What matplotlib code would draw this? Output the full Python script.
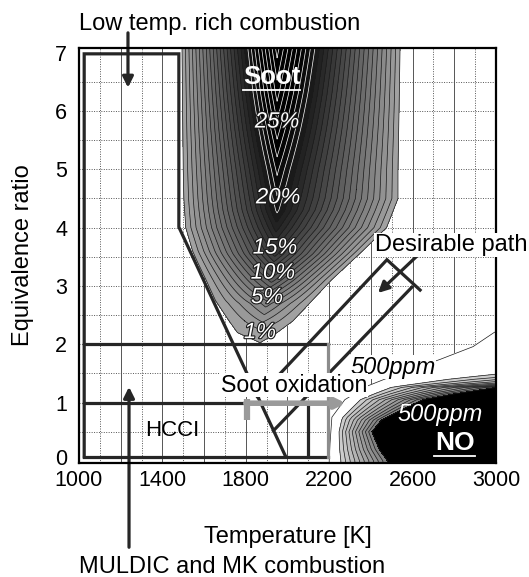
import numpy as np
import matplotlib.pyplot as plt
from matplotlib import patheffects as pe
from matplotlib.transforms import ScaledTranslation

plt.rcParams['font.family'] = ['Liberation Sans', 'DejaVu Sans']

# %% Soot yield [%] - outer (1 %) contour edges and ridge, read along phi
soot_phi   = [2.03, 2.2, 2.4, 2.75, 3.1, 3.4, 3.6, 4.0, 4.5, 5.0, 6.0, 7.1]
soot_left  = [1868, 1760, 1720, 1655, 1610, 1570, 1545, 1512, 1503, 1500, 1497, 1494]
soot_right = [1870, 1950, 2026, 2118, 2210, 2300, 2360, 2475, 2530, 2530, 2535, 2540]
ridge_phi  = [2.03, 2.2, 2.7, 3.1, 3.55, 4.3, 7.1]
ridge_T    = [1868, 1870, 1900, 1925, 1940, 1950, 1950]
peak_phi   = [2.03, 2.2, 2.7, 3.1, 3.55, 4.0, 4.3, 5.0, 5.7, 6.3, 7.1]
peak_soot  = [1.0, 1.6, 5.5, 10.5, 15.5, 18.5, 20.3, 22.3, 24.6, 26.4, 28.5]
soot_levels = np.arange(1, 29, 1)

# %% NO - outermost contour and edge of the black core, read along phi
no_phi     = [0.0, 0.3, 0.75, 1.05, 1.28, 1.45, 1.74, 1.96, 2.2, 2.6]
no_outer_T = [2200, 2204, 2213, 2275, 2380, 2500, 2731, 2890, 2990, 3200]
core_phi   = [0.0, 0.2, 0.5, 0.7, 0.9, 1.05, 1.15, 1.26, 1.4, 1.6, 2.0, 2.6]
core_T     = [2480, 2440, 2405, 2450, 2560, 2650, 2800, 3000, 4000, 6000, 9000, 12000]
no_levels  = [0, 0.2, 0.28, 0.36, 0.44, 0.52, 0.6, 0.68, 0.76, 0.84, 0.92, 1.0]

# %% Combustion regions (T [K], phi)
lowtemp_box = [(1025, 0.07), (1025, 6.98), (1479, 6.98), (1479, 4.01), (1992, 0.07)]
muldic_top  = [(1025, 2.0), (2195, 2.0)]
muldic_side = [(2195, 2.0), (2195, 0.07)]
bottom_line = [(1025, 0.07), (2195, 0.07)]
hcci_box    = [(1025, 1.0), (2100, 1.0), (2100, 0.07)]
path_upper  = [(1858, 1.09), (2477, 3.45), (2636, 2.93)]
path_lower  = [(1933, 0.52), (2597, 2.98)]

# %% Build fields
T = np.arange(1000, 3001, 5.0)
phi = np.arange(-0.05, 7.1, 0.01)
TT, PP = np.meshgrid(T, phi)

L = np.interp(phi, soot_phi, soot_left)[:, None]
R = np.interp(phi, soot_phi, soot_right)[:, None]
C = np.interp(phi, ridge_phi, ridge_T)[:, None]
Sc = np.interp(phi, peak_phi, peak_soot, left=0)[:, None]
u = np.where(TT < C, (C - TT) / np.maximum(C - L, 1), (TT - C) / np.maximum(R - C, 1))
soot = 1 + (Sc - 1) * (1 - u)
soot[np.broadcast_to(Sc < 1, soot.shape)] = 0

Tb = np.interp(phi, no_phi, no_outer_T)[:, None]
Tk = np.interp(phi, core_phi, core_T)[:, None]
no = (TT - Tb) / (Tk - Tb)

# %% Plot
fig = plt.figure(figsize=(5.29, 5.77), dpi=100)
ax = fig.add_axes([0.1493, 0.1976, 0.7883, 0.7192])
ax.set_xlim(1000, 3000)
ax.set_ylim(-0.035, 7.08)

# grid: solid every 200 K, dotted in between, dotted phi lines
for t in range(1100, 3000, 100):
    ls = '-' if t % 200 == 0 else (0, (1, 1.5))
    ax.axvline(t, color='#555555', lw=0.7, ls=ls, zorder=0.5)
for p in np.arange(0.5, 7.0, 0.5):
    ax.axhline(p, color='#555555', lw=0.7, ls=(0, (1, 1.5)), zorder=0.5)

# soot yield
s_cols = [str(np.clip(0.66 * (1 - s / 22.5), 0, 1)) for s in soot_levels[:-1]]
ax.contourf(TT, PP, soot, levels=list(soot_levels) + [60], colors=s_cols + ['0'], zorder=1)
line_cols = ['#1a1a1a' if s < 20 else 'white' for s in soot_levels]
ax.contour(TT, PP, soot, levels=soot_levels, colors=line_cols, linewidths=0.5, zorder=1.2)

# NO
n_cols = ['white'] + [str(0.80 - 0.30 * i / 9) for i in range(10)] + ['0']
ax.contourf(TT, PP, no, levels=no_levels + [50], colors=n_cols, zorder=1)
ax.contour(TT, PP, no, levels=no_levels, colors='#1a1a1a', linewidths=0.5, zorder=1.2)

# region outlines
dark = '#262626'
for pts in [lowtemp_box, muldic_top, bottom_line, hcci_box, path_upper, path_lower]:
    x, y = zip(*pts)
    ax.plot(x, y, color=dark, lw=2.3, solid_joinstyle='miter', zorder=3)
x, y = zip(*muldic_side)
ax.plot(x, y, color='#8c8c8c', lw=2.3, zorder=3)

# soot oxidation arrow
ax.plot([1805, 1805], [0.7, 1.07], color='#9a9a9a', lw=4.5, solid_capstyle='butt', zorder=3.5)
ax.annotate('', xy=(2280, 0.99), xytext=(1800, 0.99),
            arrowprops=dict(arrowstyle='-|>', color='#9a9a9a', lw=4, mutation_scale=14,
                            shrinkA=0, shrinkB=0), zorder=3.5)

# pointer arrows
arr = dict(arrowstyle='-|>', color=dark, lw=2.3, mutation_scale=16, shrinkA=0, shrinkB=0)
ax.annotate('', xy=(1235, 6.40), xytext=(1235, 7.34), arrowprops=arr, annotation_clip=False, zorder=4)
ax.annotate('', xy=(1240, 1.27), xytext=(1240, -1.48), arrowprops=arr, annotation_clip=False, zorder=4)
ax.annotate('', xy=(2434, 2.88), xytext=(2626, 3.53), arrowprops=arr, zorder=4)

# labels inside the map
halo = [pe.withStroke(linewidth=1.6, foreground='#1a1a1a')]
for txt, t, p in [('25%', 1950, 5.81), ('20%', 1955, 4.51), ('15%', 1940, 3.65),
                  ('10%', 1930, 3.22), ('5%', 1902, 2.80), ('1%', 1868, 2.20)]:
    ax.text(t, p, txt, color='white', fontsize=16, style='italic', ha='center', va='center',
            path_effects=halo, zorder=5)
ax.text(1925, 6.59, 'Soot', color='white', fontsize=18.5, weight='bold', ha='center', va='center', zorder=5)
ax.plot([1785, 2062], [6.36, 6.36], color='white', lw=1.3, zorder=5)
ax.text(2803, 0.31, 'NO', color='white', fontsize=19, weight='bold', ha='center', va='center', zorder=5)
ax.plot([2705, 2900], [0.08, 0.08], color='white', lw=1.3, zorder=5)
ax.text(2731, 0.79, '500ppm', color='white', fontsize=17, style='italic', ha='center', va='center', zorder=5)

wbox = dict(facecolor='white', edgecolor='none', pad=0.5)
ax.text(2506, 1.61, '500ppm', fontsize=17, style='italic', ha='center', va='center', bbox=wbox, zorder=5)
ax.text(2032, 1.30, 'Soot oxidation', fontsize=16.7, ha='center', va='center', bbox=wbox, zorder=5)
ax.text(2784, 3.70, 'Desirable path', fontsize=17, ha='center', va='center', bbox=wbox,
        clip_on=False, zorder=6)
ax.text(1446, 0.53, 'HCCI', fontsize=16, ha='center', va='center', zorder=5)

# axes
ax.set_xticks([1000, 1400, 1800, 2200, 2600, 3000])
ax.set_yticks(range(0, 8))
ax.tick_params(length=0, labelsize=15.5)
ax.tick_params(axis='x', pad=5)
ax.tick_params(axis='y', pad=8.5)
# lift the "0" a touch so it clears the first temperature label
zero = ax.get_yticklabels()[0]
zero.set_transform(zero.get_transform() + ScaledTranslation(0, 2.5 / 72, fig.dpi_scale_trans))
for sp in ax.spines.values():
    sp.set_linewidth(1.6)
    sp.set_zorder(4)

fig.text(287.5 / 529, 1 - 543 / 577, 'Temperature [K]', fontsize=17, ha='center', va='baseline')
fig.text(23 / 529, 1 - 255 / 577, 'Equivalence ratio', fontsize=17, rotation=90, ha='center', va='center')
fig.text(79 / 529, 1 - 30 / 577, 'Low temp. rich combustion', fontsize=17, ha='left', va='baseline')
fig.text(79 / 529, 1 - 573 / 577, 'MULDIC and MK combustion', fontsize=17, ha='left', va='baseline')

fig.savefig('out.png', dpi=100)
